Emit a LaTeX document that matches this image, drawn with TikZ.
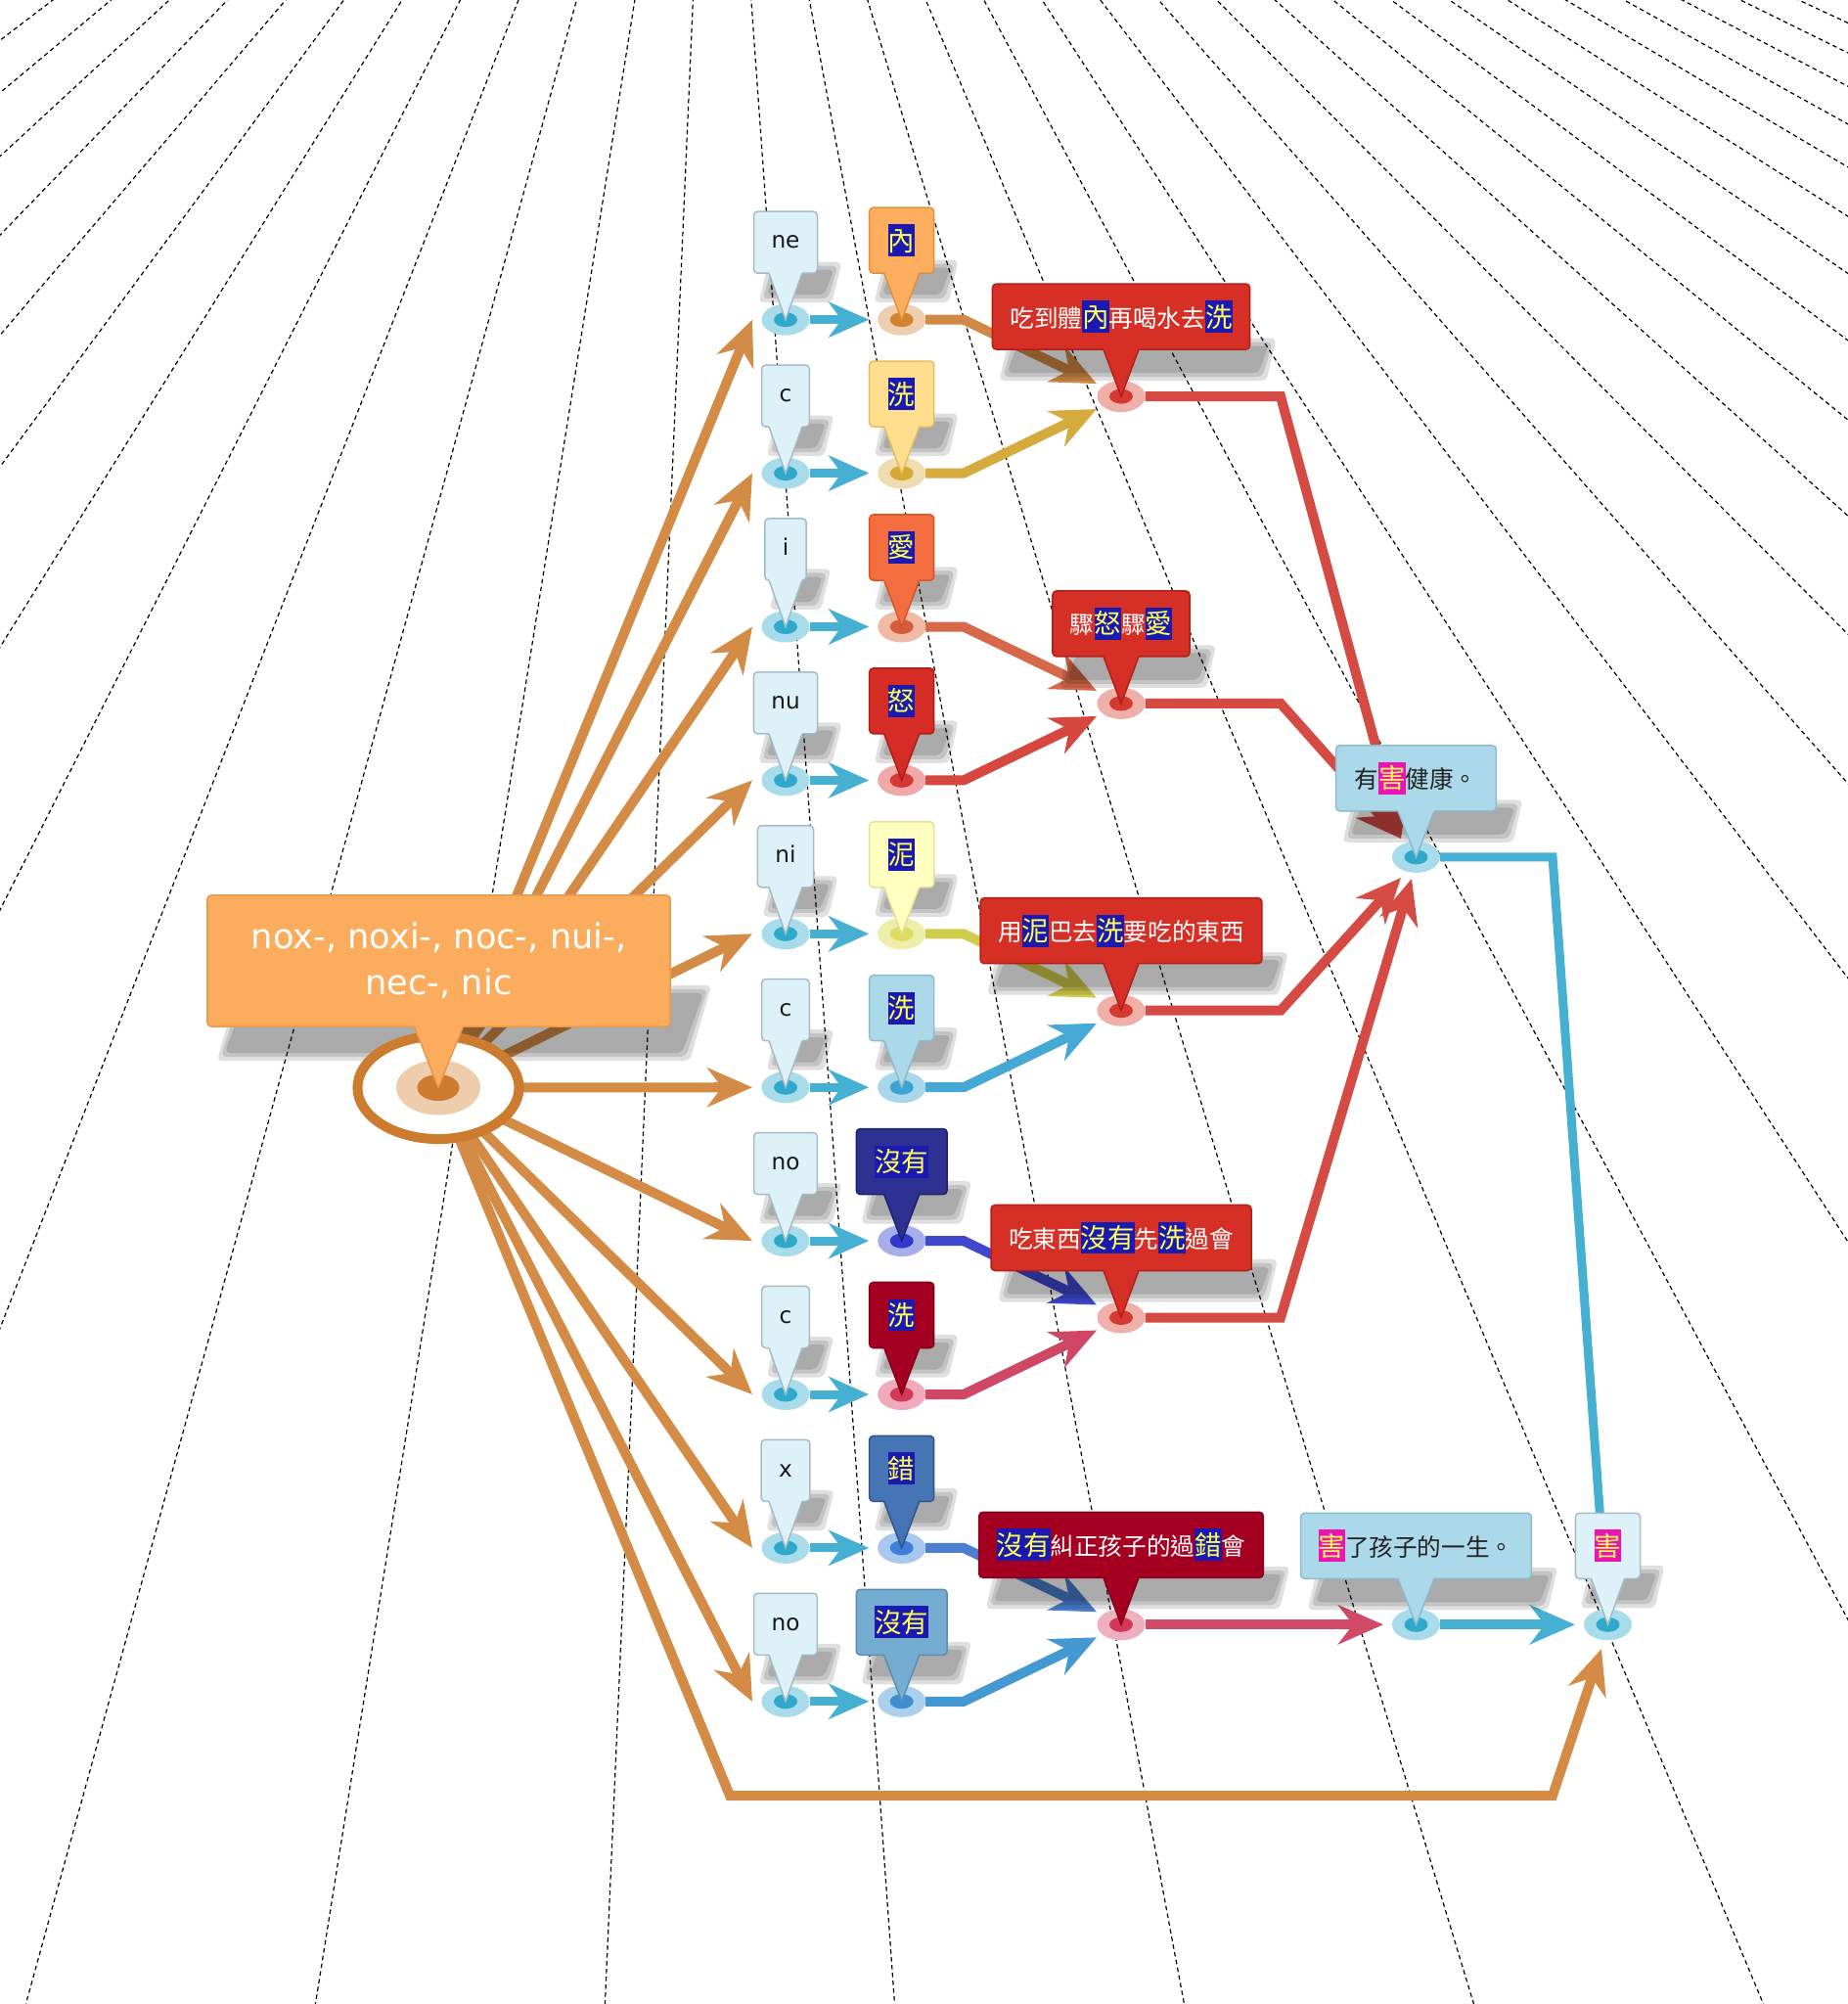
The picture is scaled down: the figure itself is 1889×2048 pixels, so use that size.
\documentclass[tikz,border=0pt]{standalone}
\usepackage{fontspec}
\setmainfont{DejaVu Sans}
\newfontfamily\cjk{Noto Sans CJK TC}
\usetikzlibrary{arrows.meta,calc,shapes.geometric}
\definecolor{lbfill}{HTML}{DFF1F8}
\definecolor{lbdraw}{HTML}{A3BCC6}
\definecolor{dotbo}{HTML}{A8DCEB}
\definecolor{dotbi}{HTML}{2EA9CC}
\definecolor{cyanc}{HTML}{45B0D2}
\definecolor{oconn}{HTML}{D38B45}
\definecolor{ringc}{HTML}{CD7B2F}
\definecolor{ringlight}{HTML}{EDCDAB}
\definecolor{mainfill}{HTML}{FBAC5D}
\definecolor{maindraw}{HTML}{E8994A}
\definecolor{hlblue}{HTML}{1A1AB2}
\definecolor{hlyel}{HTML}{FFFF55}
\definecolor{hlmag}{HTML}{EC12B4}
\definecolor{redbox}{HTML}{D52F26}
\definecolor{redboxd}{HTML}{B51D16}
\definecolor{crim}{HTML}{A50021}
\definecolor{crimd}{HTML}{85001A}
\definecolor{lblue}{HTML}{ABD9EA}
\definecolor{lblued}{HTML}{8BBCCD}
\definecolor{redc}{HTML}{D54A43}
\definecolor{pinkc}{HTML}{D14A68}
\definecolor{txtdark}{HTML}{222222}
\definecolor{redo}{HTML}{F0B0AA}
\definecolor{redi}{HTML}{D43A32}
\definecolor{pinko}{HTML}{EEB0BF}
\definecolor{pinki}{HTML}{D2385A}
\definecolor{kAf}{HTML}{FCAD5E}\definecolor{kAd}{HTML}{E0913F}\definecolor{kAo}{HTML}{EDCEAF}\definecolor{kAi}{HTML}{D2832E}\definecolor{kAc}{HTML}{D08A45}
\definecolor{kBf}{HTML}{FFDF8E}\definecolor{kBd}{HTML}{E6BE62}\definecolor{kBo}{HTML}{EEDDB0}\definecolor{kBi}{HTML}{D7A832}\definecolor{kBc}{HTML}{D5AB3E}
\definecolor{kCf}{HTML}{F36D3F}\definecolor{kCd}{HTML}{D4552A}\definecolor{kCo}{HTML}{F0BBA6}\definecolor{kCi}{HTML}{D65D3C}\definecolor{kCc}{HTML}{D6694A}
\definecolor{kDf}{HTML}{D52D26}\definecolor{kDd}{HTML}{B01C16}\definecolor{kDo}{HTML}{F0A8A8}\definecolor{kDi}{HTML}{D43A33}\definecolor{kDc}{HTML}{D5473F}
\definecolor{kEf}{HTML}{FFFFC0}\definecolor{kEd}{HTML}{E2E296}\definecolor{kEo}{HTML}{EEEEA8}\definecolor{kEi}{HTML}{DCDC62}\definecolor{kEc}{HTML}{D2CC4C}
\definecolor{kFf}{HTML}{ABD9EA}\definecolor{kFd}{HTML}{8CBCCC}\definecolor{kFo}{HTML}{A9D7EA}\definecolor{kFi}{HTML}{3AA3D4}\definecolor{kFc}{HTML}{45A9D6}
\definecolor{kGf}{HTML}{2E3192}\definecolor{kGd}{HTML}{1E2070}\definecolor{kGo}{HTML}{A8AEEA}\definecolor{kGi}{HTML}{3437CC}\definecolor{kGc}{HTML}{3F47CF}
\definecolor{kHf}{HTML}{A50021}\definecolor{kHd}{HTML}{800018}\definecolor{kHo}{HTML}{F0AABB}\definecolor{kHi}{HTML}{D23A5A}\definecolor{kHc}{HTML}{D04766}
\definecolor{kIf}{HTML}{4575B4}\definecolor{kId}{HTML}{30558A}\definecolor{kIo}{HTML}{A8C8EE}\definecolor{kIi}{HTML}{3E7FD8}\definecolor{kIc}{HTML}{4A80CF}
\definecolor{kJf}{HTML}{74ADD1}\definecolor{kJd}{HTML}{5A8DB0}\definecolor{kJo}{HTML}{AAD0EC}\definecolor{kJi}{HTML}{3F8FD0}\definecolor{kJc}{HTML}{4499D3}

\newcommand\hlb[1]{{\fboxsep=0pt\colorbox{hlblue}{\fontsize{7.8pt}{8pt}\selectfont\rule[-0.22em]{0pt}{1.2em}\textcolor{hlyel}{#1}}}}
\newcommand\hlm[1]{{\fboxsep=0pt\colorbox{hlmag}{\fontsize{7.8pt}{8pt}\selectfont\rule[-0.22em]{0pt}{1.2em}\textcolor{hlyel}{#1}}}}

\pgfdeclarelayer{bglayer}
\pgfdeclarelayer{connlayer}
\pgfdeclarelayer{shadowlayer}
\pgfsetlayers{bglayer,connlayer,shadowlayer,main}

\tikzset{
  bgline/.style={black, line width=0.012cm, dash pattern=on 0.045cm off 0.035cm},
  conn/.style={line width=0.10cm, -{Stealth[length=0.46cm,width=0.40cm,inset=0.15cm]}},
  sconn/.style={line width=0.09cm, cyanc, -{Stealth[length=0.41cm,width=0.36cm,inset=0.13cm]}, shorten >=0.09cm},
  pin/.style={rounded corners=0.04cm, line width=0.015cm, inner sep=0pt, outer sep=0pt, anchor=south},
  letterbox/.style={pin, fill=lbfill, draw=lbdraw, minimum height=0.63cm, inner xsep=0.18cm,
     font=\fontsize{6.6pt}{7pt}\selectfont, text=black!90, text height=0.125cm, text depth=0pt},
  charbox/.style={pin, minimum height=0.67cm, minimum width=0.66cm, inner xsep=0.19cm,
     font=\fontsize{7.8pt}{8pt}\selectfont\cjk},
  phrasebox/.style={pin, minimum height=0.67cm, inner xsep=0.18cm,
     font=\fontsize{7pt}{8pt}\selectfont\cjk, text=white},
  dotnode/.style={ellipse, inner sep=0pt, outer sep=0pt, minimum width=0.49cm, minimum height=0.32cm},
  shadowc/.style={fill=black, opacity=0.125},
}

\newcommand\mkdot[5]{%
  \node[dotnode, fill=#4] (#1) at (#2,#3) {};
  \fill[#5] (#1.center) ellipse [x radius=0.12cm, y radius=0.075cm];
}
\newcommand\mkptr[5]{%
  \fill[#4] ($(#1.south)+(-#3,-3)$) -- ($(#1.south)+(-#3,0)$) -- (#2.center) -- ($(#1.south)+(#3,0)$) -- ($(#1.south)+(#3,-3)$) -- cycle;
  \draw[#5, line width=0.015cm] ($(#1.south)+(-#3,0)$) -- (#2.center) -- ($(#1.south)+(#3,0)$);
}
% soft cast shadow: three stacked translucent copies of a sheared, squashed box
\newcommand\mkshadow[4]{%
  \foreach \dd in {5,1,-3}{%
    \fill[shadowc, rounded corners=0.05cm]
      ($(#1.south west)+(#2-\dd,#4+\dd)$) -- ($(#1.south east)+(#2+\dd,#4+\dd)$) --
      ($(#1.east)+(#3+\dd,#4-\dd)$) -- ($(#1.west)+(#3-\dd,#4-\dd)$) -- cycle;
  }%
}

\begin{document}
\begin{tikzpicture}[x=0.01cm,y=-0.01cm]
\useasboundingbox (0,0) rectangle (1889,2048);

% ---------- background radiating dashed lines ----------
\begin{pgfonlayer}{bglayer}
\fill[white] (0,0) rectangle (1889,2048);
\begin{scope}
\clip (0,0) rectangle (1889,2048);
\coordinate (vp) at (731,-515);
\foreach \k in {-9,...,21}{
  \pgfmathsetmacro\tk{-0.2749+0.11549*\k}
  \draw[bgline] (vp) -- ({731+2563*\tk},2048);
}
\end{scope}
\end{pgfonlayer}

% ---------- central ring ----------
\node[ellipse, draw=ringc, line width=0.10cm, fill=white, minimum width=1.65cm, minimum height=1.05cm, inner sep=0pt, outer sep=0pt] (M) at (448,1111.5) {};
\fill[ringlight] (M.center) ellipse [x radius=0.43cm, y radius=0.28cm];
\fill[ringc] (M.center) ellipse [x radius=0.215cm, y radius=0.135cm];

% ---------- column 1 (letters) ----------
\foreach \i/\y/\lt in {1/326.7/ne,2/483.6/c,3/640.5/i,4/797.4/nu,5/954.3/ni,6/1111.2/c,7/1268.1/no,8/1425.0/c,9/1581.9/x,10/1738.8/no}{
  \mkdot{a\i}{803}{\y}{dotbo}{dotbi}
  \node[letterbox] (l\i) at (803,{\y-47.5}) {\lt};
  \mkptr{l\i}{a\i}{17}{lbfill}{lbdraw}
  \coordinate (t\i) at (769,\y);
  \coordinate (e\i) at (985,\y);
}

% ---------- column 2 (characters) ----------
\mkdot{b1}{921.7}{326.7}{kAo}{kAi}
\mkdot{b2}{921.7}{483.6}{kBo}{kBi}
\mkdot{b3}{921.7}{640.5}{kCo}{kCi}
\mkdot{b4}{921.7}{797.4}{kDo}{kDi}
\mkdot{b5}{921.7}{954.3}{kEo}{kEi}
\mkdot{b6}{921.7}{1111.2}{kFo}{kFi}
\mkdot{b7}{921.7}{1268.1}{kGo}{kGi}
\mkdot{b8}{921.7}{1425.0}{kHo}{kHi}
\mkdot{b9}{921.7}{1581.9}{kIo}{kIi}
\mkdot{b10}{921.7}{1738.8}{kJo}{kJi}

\node[charbox, fill=kAf, draw=kAd] (k1) at (921.7,279.2) {\hlb{內}};
\mkptr{k1}{b1}{18}{kAf}{kAd}
\node[charbox, fill=kBf, draw=kBd] (k2) at (921.7,436.1) {\hlb{洗}};
\mkptr{k2}{b2}{18}{kBf}{kBd}
\node[charbox, fill=kCf, draw=kCd] (k3) at (921.7,593.0) {\hlb{愛}};
\mkptr{k3}{b3}{18}{kCf}{kCd}
\node[charbox, fill=kDf, draw=kDd] (k4) at (921.7,749.9) {\hlb{怒}};
\mkptr{k4}{b4}{18}{kDf}{kDd}
\node[charbox, fill=kEf, draw=kEd] (k5) at (921.7,906.8) {\hlb{泥}};
\mkptr{k5}{b5}{18}{kEf}{kEd}
\node[charbox, fill=kFf, draw=kFd] (k6) at (921.7,1063.7) {\hlb{洗}};
\mkptr{k6}{b6}{18}{kFf}{kFd}
\node[charbox, fill=kGf, draw=kGd] (k7) at (921.7,1220.6) {\hlb{沒有}};
\mkptr{k7}{b7}{18}{kGf}{kGd}
\node[charbox, fill=kHf, draw=kHd] (k8) at (921.7,1377.5) {\hlb{洗}};
\mkptr{k8}{b8}{18}{kHf}{kHd}
\node[charbox, fill=kIf, draw=kId] (k9) at (921.7,1534.4) {\hlb{錯}};
\mkptr{k9}{b9}{18}{kIf}{kId}
\node[charbox, fill=kJf, draw=kJd] (k10) at (921.7,1691.3) {\hlb{沒有}};
\mkptr{k10}{b10}{18}{kJf}{kJd}

% ---------- column 3 (phrases) ----------
\mkdot{cA}{1146}{405.1}{redo}{redi}
\mkdot{cB}{1146}{718.9}{redo}{redi}
\mkdot{cC}{1146}{1032.7}{redo}{redi}
\mkdot{cD}{1146}{1346.5}{redo}{redi}
\mkdot{cE}{1146}{1660.3}{pinko}{pinki}

\node[phrasebox, fill=redbox, draw=redboxd] (pA) at (1146,357.1) {吃到體\hlb{內}再喝水去\hlb{洗}};
\mkptr{pA}{cA}{18}{redbox}{redboxd}
\node[phrasebox, fill=redbox, draw=redboxd] (pB) at (1146,670.9) {驟\hlb{怒}驟\hlb{愛}};
\mkptr{pB}{cB}{18}{redbox}{redboxd}
\node[phrasebox, fill=redbox, draw=redboxd] (pC) at (1146,984.7) {用\hlb{泥}巴去\hlb{洗}要吃的東西};
\mkptr{pC}{cC}{18}{redbox}{redboxd}
\node[phrasebox, fill=redbox, draw=redboxd] (pD) at (1146,1298.5) {吃東西\hlb{沒有}先\hlb{洗}過會};
\mkptr{pD}{cD}{18}{redbox}{redboxd}
\node[phrasebox, fill=crim, draw=crimd] (pE) at (1146,1612.3) {\hlb{沒有}糾正孩子的過\hlb{錯}會};
\mkptr{pE}{cE}{18}{crim}{crimd}

% ---------- column 4 / 5 ----------
\mkdot{h1}{1447.5}{875.9}{dotbo}{dotbi}
\mkdot{h2}{1447.5}{1660.3}{dotbo}{dotbi}
\mkdot{f}{1643.5}{1660.3}{dotbo}{dotbi}

\node[phrasebox, fill=lblue, draw=lblued, text=txtdark, inner xsep=0.19cm] (q1) at (1447.5,828.9) {有\hlm{害}健康。};
\mkptr{q1}{h1}{18.5}{lblue}{lblued}
\node[phrasebox, fill=lblue, draw=lblued, text=txtdark] (q2) at (1447.5,1613.3) {\hlm{害}了孩子的一生。};
\mkptr{q2}{h2}{18.5}{lblue}{lblued}
\node[charbox, fill=lbfill, draw=lbdraw, inner xsep=0.18cm] (q3) at (1643.5,1613.3) {\hlm{害}};
\mkptr{q3}{f}{17}{lbfill}{lbdraw}

% ---------- main box ----------
\node[pin, fill=mainfill, draw=maindraw, minimum width=4.73cm, minimum height=1.34cm, align=center, text=white,
      font=\fontsize{10pt}{13.4pt}\selectfont] (mainbox) at (448.5,1049) {nox-, noxi-, noc-, nui-,\\nec-, nic};
\mkptr{mainbox}{M}{25}{mainfill}{maindraw}

% ---------- connectors ----------
\begin{pgfonlayer}{connlayer}
\foreach \i in {1,...,10}{
  \draw[conn, oconn] (M) -- (t\i);
  \draw[sconn] (a\i) -- (b\i);
}
\coordinate (bl) at (746,1835);
\coordinate (br) at (1587,1835);
\coordinate (ft) at (1637,1685);
\draw[conn, oconn] (M) -- (bl) -- (br) -- (ft);

\coordinate (g1) at (1121,392.1);  \coordinate (g2) at (1121,418.1);
\coordinate (g3) at (1121,705.9);  \coordinate (g4) at (1121,731.9);
\coordinate (g5) at (1121,1019.7); \coordinate (g6) at (1121,1045.7);
\coordinate (g7) at (1121,1333.5); \coordinate (g8) at (1121,1359.5);
\coordinate (g9) at (1121,1647.3); \coordinate (g10) at (1121,1673.3);
\draw[conn, kAc] (b1) -- (e1) -- (g1);
\draw[conn, kBc] (b2) -- (e2) -- (g2);
\draw[conn, kCc] (b3) -- (e3) -- (g3);
\draw[conn, kDc] (b4) -- (e4) -- (g4);
\draw[conn, kEc] (b5) -- (e5) -- (g5);
\draw[conn, kFc] (b6) -- (e6) -- (g6);
\draw[conn, kGc] (b7) -- (e7) -- (g7);
\draw[conn, kHc] (b8) -- (e8) -- (g8);
\draw[conn, kIc] (b9) -- (e9) -- (g9);
\draw[conn, kJc] (b10) -- (e10) -- (g10);

\coordinate (xA) at (1309,405.1);
\coordinate (xB) at (1309,718.9);
\coordinate (xC) at (1309,1032.7);
\coordinate (xD) at (1309,1346.5);
\coordinate (uA) at (1432,857);
\coordinate (uC) at (1432,897);
\coordinate (uD) at (1443,898);
\draw[conn, redc] (cA) -- (xA) -- (uA);
\draw[conn, redc] (cB) -- (xB) -- (uA);
\draw[conn, redc] (cC) -- (xC) -- (uC);
\draw[conn, redc] (cD) -- (xD) -- (uD);

\coordinate (xH) at (1587,875.9);
\draw[line width=0.09cm, cyanc] (h1) -- (xH) -- (f);
\draw[conn, pinkc, shorten >=0.09cm] (cE) -- (h2);
\draw[conn, cyanc, shorten >=0.09cm] (h2) -- (f);
\end{pgfonlayer}

% ---------- shadows ----------
\begin{pgfonlayer}{shadowlayer}
\foreach \i in {1,...,10}{
  \mkshadow{l\i}{10}{20}{25}
  \mkshadow{k\i}{10}{20}{25}
}
\foreach \n in {pA,pB,pC,pD,pE,q1,q2}{
  \mkshadow{\n}{12}{22}{27}
}
\mkshadow{q3}{10}{20}{25}
\mkshadow{mainbox}{15}{37}{30}
\end{pgfonlayer}
\end{tikzpicture}
\end{document}
